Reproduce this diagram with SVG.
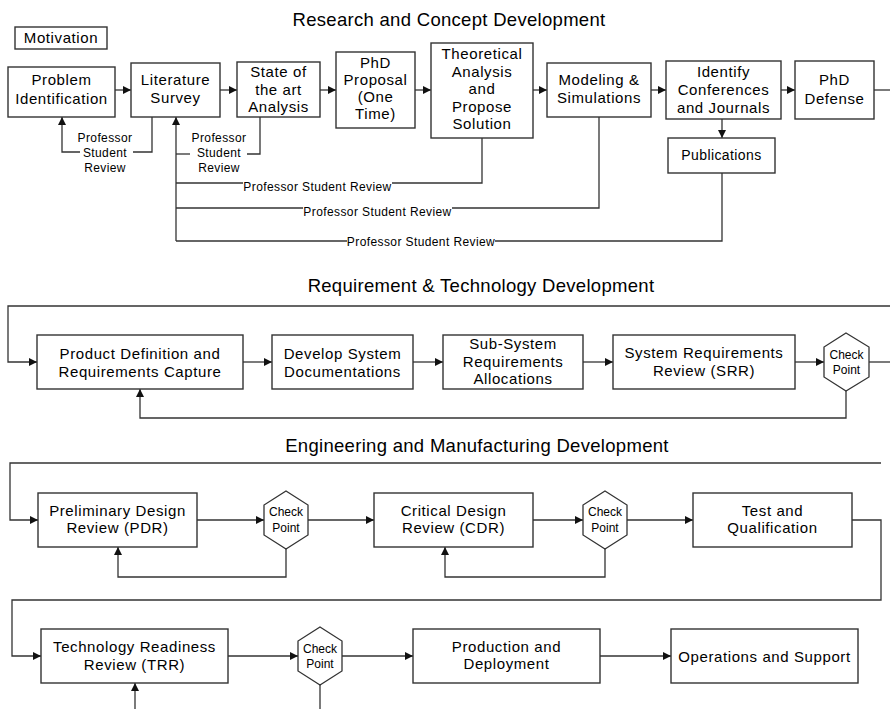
<svg xmlns="http://www.w3.org/2000/svg" width="890" height="709" viewBox="0 0 890 709">
<defs>
<marker id="ah" viewBox="0 0 10 10" refX="10" refY="5" markerWidth="9" markerHeight="8" markerUnits="userSpaceOnUse" orient="auto">
<path d="M0,0 L10,5 L0,10 Z" fill="#111"/>
</marker>
</defs>
<style>
.box{fill:#fff;stroke:#333;stroke-width:1.4}
.hex{fill:#fff;stroke:#333;stroke-width:1.3}
.ln{fill:none;stroke:#333;stroke-width:1.3}
.ar{fill:none;stroke:#333;stroke-width:1.3;marker-end:url(#ah)}
text{font-family:"Liberation Sans",Arial,sans-serif;fill:#000;text-anchor:middle}
.t{font-size:15px;letter-spacing:0.6px}
.ttl{font-size:18.5px;letter-spacing:0.3px}
.cp{font-size:12px}
.rv{font-size:12px;letter-spacing:0.4px}
.pub{font-size:14px;letter-spacing:0.4px}
</style>
<rect width="890" height="709" fill="#fff"/>

<text class="ttl" x="449" y="26">Research and Concept Development</text>
<text class="ttl" x="481" y="292">Requirement &amp; Technology Development</text>
<text class="ttl" x="477" y="452">Engineering and Manufacturing Development</text>

<g id="connectors">
<!-- row 1 -->
<path class="ar" d="M115,90 H131"/>
<path class="ar" d="M220,90 H237"/>
<path class="ar" d="M320,90 H336"/>
<path class="ar" d="M415,90 H431"/>
<path class="ar" d="M533,90 H547"/>
<path class="ar" d="M651,90 H666"/>
<path class="ar" d="M781,90 H795"/>
<path class="ln" d="M874,90 H890"/>
<path class="ar" d="M722,119 V138"/>
<path class="ln" d="M152,117 V152 H133"/>
<path class="ar" d="M80,152 H62 V117"/>
<path class="ln" d="M260,117 V154 H247"/>
<path class="ln" d="M190,154 H176"/>
<path class="ln" d="M482,138 V183 H392"/>
<path class="ln" d="M243,183 H176"/>
<path class="ln" d="M599,117 V208 H452"/>
<path class="ln" d="M303,208 H176"/>
<path class="ln" d="M722,173 V241 H495"/>
<path class="ln" d="M347,241 H176"/>
<path class="ar" d="M176,241 V117"/>
<!-- row 2 -->
<path class="ar" d="M890,306 H8 V362 H37"/>
<path class="ar" d="M243,362 H272"/>
<path class="ar" d="M413,362 H443"/>
<path class="ar" d="M583,362 H613"/>
<path class="ar" d="M795,362 H824"/>
<path class="ln" d="M869,362 H890"/>
<path class="ar" d="M846,391 V418 H140 V389"/>
<!-- row 3 -->
<path class="ar" d="M881,463 H10 V520 H38"/>
<path class="ar" d="M197,520 H264"/>
<path class="ar" d="M308,520 H374"/>
<path class="ar" d="M533,520 H583"/>
<path class="ar" d="M627,520 H693"/>
<path class="ar" d="M852,520 H881 V600 H12 V656 H41"/>
<path class="ar" d="M286,549 V577 H118 V547"/>
<path class="ar" d="M605,549 V577 H445 V547"/>
<!-- row 4 -->
<path class="ar" d="M228,656 H298"/>
<path class="ar" d="M342,656 H413"/>
<path class="ar" d="M600,656 H671"/>
<path class="ln" d="M320,685 V709"/>
<path class="ar" d="M135,709 V683"/>
</g>

<g id="review-labels">
<text class="rv" x="105" y="142">Professor</text>
<text class="rv" x="105" y="157">Student</text>
<text class="rv" x="105" y="171.5">Review</text>
<text class="rv" x="219" y="141.5">Professor</text>
<text class="rv" x="219" y="157">Student</text>
<text class="rv" x="219" y="171.5">Review</text>
<text class="rv" x="317.5" y="191">Professor Student Review</text>
<text class="rv" x="377.5" y="216">Professor Student Review</text>
<text class="rv" x="421" y="245.5">Professor Student Review</text>
</g>

<g id="motivation">
<rect class="box" x="15" y="27" width="92" height="22"/>
<text class="t" x="61" y="43">Motivation</text>
</g>
<g id="problem-identification">
<rect class="box" x="8" y="67" width="107" height="50"/>
<text class="t" x="61.5" y="85">Problem</text>
<text class="t" x="61.5" y="104">Identification</text>
</g>
<g id="literature-survey">
<rect class="box" x="131" y="63" width="89" height="54"/>
<text class="t" x="175.5" y="85">Literature</text>
<text class="t" x="175.5" y="103">Survey</text>
</g>
<g id="state-of-the-art">
<rect class="box" x="237" y="62" width="83" height="55"/>
<text class="t" x="278.5" y="77">State of</text>
<text class="t" x="278.5" y="95">the art</text>
<text class="t" x="278.5" y="112">Analysis</text>
</g>
<g id="phd-proposal">
<rect class="box" x="336" y="52" width="79" height="76"/>
<text class="t" x="375.5" y="67.5">PhD</text>
<text class="t" x="375.5" y="85">Proposal</text>
<text class="t" x="375.5" y="102">(One</text>
<text class="t" x="375.5" y="119">Time)</text>
</g>
<g id="theoretical-analysis">
<rect class="box" x="431" y="43" width="102" height="95"/>
<text class="t" x="482" y="59">Theoretical</text>
<text class="t" x="482" y="76.5">Analysis</text>
<text class="t" x="482" y="94">and</text>
<text class="t" x="482" y="111.5">Propose</text>
<text class="t" x="482" y="129">Solution</text>
</g>
<g id="modeling">
<rect class="box" x="547" y="63" width="104" height="54"/>
<text class="t" x="599" y="85">Modeling &amp;</text>
<text class="t" x="599" y="103">Simulations</text>
</g>
<g id="identify-conferences">
<rect class="box" x="666" y="61" width="115" height="58"/>
<text class="t" x="723.5" y="76.5">Identify</text>
<text class="t" x="723.5" y="94.5">Conferences</text>
<text class="t" x="723.5" y="113">and Journals</text>
</g>
<g id="phd-defense">
<rect class="box" x="795" y="61" width="79" height="58"/>
<text class="t" x="834.5" y="85">PhD</text>
<text class="t" x="834.5" y="104">Defense</text>
</g>
<g id="publications">
<rect class="box" x="668" y="138" width="107" height="35"/>
<text class="pub" x="721.5" y="160">Publications</text>
</g>

<g id="product-definition">
<rect class="box" x="37" y="335" width="206" height="54"/>
<text class="t" x="140" y="359">Product Definition and</text>
<text class="t" x="140" y="377">Requirements Capture</text>
</g>
<g id="develop-system-doc">
<rect class="box" x="272" y="335" width="141" height="54"/>
<text class="t" x="342.5" y="359">Develop System</text>
<text class="t" x="342.5" y="377">Documentations</text>
</g>
<g id="sub-system-req">
<rect class="box" x="443" y="335" width="140" height="54"/>
<text class="t" x="513" y="349">Sub-System</text>
<text class="t" x="513" y="366.5">Requirements</text>
<text class="t" x="513" y="384">Allocations</text>
</g>
<g id="srr">
<rect class="box" x="613" y="335" width="182" height="54"/>
<text class="t" x="704" y="358">System Requirements</text>
<text class="t" x="704" y="376">Review (SRR)</text>
</g>
<g id="checkpoint-srr">
<polygon class="hex" points="846,333 869,347 869,377 846,391 824,377 824,347"/>
<text class="cp" x="846.5" y="359">Check</text>
<text class="cp" x="846.5" y="374">Point</text>
</g>

<g id="pdr">
<rect class="box" x="38" y="493" width="159" height="54"/>
<text class="t" x="117.5" y="516">Preliminary Design</text>
<text class="t" x="117.5" y="533">Review (PDR)</text>
</g>
<g id="checkpoint-pdr">
<polygon class="hex" points="286,491 308,505 308,535 286,549 264,535 264,505"/>
<text class="cp" x="286" y="516">Check</text>
<text class="cp" x="286" y="532">Point</text>
</g>
<g id="cdr">
<rect class="box" x="374" y="493" width="159" height="54"/>
<text class="t" x="453.5" y="516">Critical Design</text>
<text class="t" x="453.5" y="533">Review (CDR)</text>
</g>
<g id="checkpoint-cdr">
<polygon class="hex" points="605,491 627,505 627,535 605,549 583,535 583,505"/>
<text class="cp" x="605" y="516">Check</text>
<text class="cp" x="605" y="532">Point</text>
</g>
<g id="test-qualification">
<rect class="box" x="693" y="493" width="159" height="54"/>
<text class="t" x="772.5" y="516">Test and</text>
<text class="t" x="772.5" y="533">Qualification</text>
</g>

<g id="trr">
<rect class="box" x="41" y="629" width="187" height="54"/>
<text class="t" x="134.5" y="652">Technology Readiness</text>
<text class="t" x="134.5" y="670">Review (TRR)</text>
</g>
<g id="checkpoint-trr">
<polygon class="hex" points="320,627 342,641 342,671 320,685 298,671 298,641"/>
<text class="cp" x="320" y="653">Check</text>
<text class="cp" x="320" y="668">Point</text>
</g>
<g id="production-deployment">
<rect class="box" x="413" y="629" width="187" height="54"/>
<text class="t" x="506.5" y="652">Production and</text>
<text class="t" x="506.5" y="669">Deployment</text>
</g>
<g id="operations-support">
<rect class="box" x="671" y="629" width="187" height="54"/>
<text class="t" x="764.5" y="662">Operations and Support</text>
</g>
</svg>
